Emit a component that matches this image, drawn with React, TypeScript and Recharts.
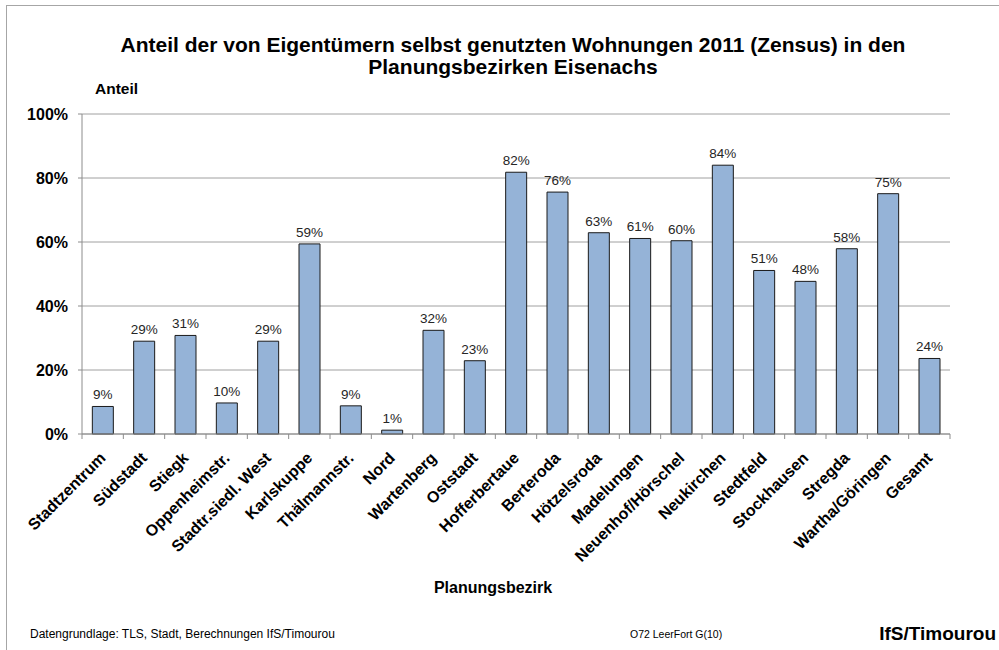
import React from 'react';
import { BarChart, Bar, XAxis, YAxis, CartesianGrid, LabelList } from 'recharts';

const categories = [
  'Stadtzentrum', 'Südstadt', 'Stiegk', 'Oppenheimstr.', 'Stadtr.siedl. West', 'Karlskuppe',
  'Thälmannstr.', 'Nord', 'Wartenberg', 'Oststadt', 'Hofferbertaue', 'Berteroda', 'Hötzelsroda',
  'Madelungen', 'Neuenhof/Hörschel', 'Neukirchen', 'Stedtfeld', 'Stockhausen', 'Stregda',
  'Wartha/Göringen', 'Gesamt',
];
const shares = [
  8.6, 29.0, 30.8, 9.7, 29.0, 59.4, 8.8, 1.2, 32.4, 22.9, 81.8, 75.6, 62.9, 61.1, 60.4, 84.0,
  51.1, 47.7, 57.9, 75.1, 23.6,
];
const yTicks = [0, 20, 40, 60, 80, 100];

const titleLines = [
  'Anteil der von Eigentümern selbst genutzten Wohnungen 2011 (Zensus) in den',
  'Planungsbezirken Eisenachs',
];
const yAxisTitle = 'Anteil';
const xAxisTitle = 'Planungsbezirk';
const sourceText = 'Datengrundlage: TLS, Stadt, Berechnungen IfS/Timourou';
const codeText = 'O72 LeerFort G(10)';
const brandText = 'IfS/Timourou';

const data = categories.map((name, i) => ({ name, value: shares[i] }));

const FONT = '"Liberation Sans", Arial, sans-serif';
const W = 999;
const H = 650;
const PLOT_LEFT = 82;
const PLOT_RIGHT = 950;
const PLOT_TOP = 114;
const PLOT_BOTTOM = 434;
const STEP = (PLOT_RIGHT - PLOT_LEFT) / categories.length;
const AXIS_COLOR = '#8c8c8c';

const XTick = (props: any) => {
  const { x, y, payload } = props;
  const idx = props.index ?? payload.index;
  return (
    <g>
      <line x1={x - STEP / 2} x2={x - STEP / 2} y1={y} y2={y + 5} stroke={AXIS_COLOR} />
      {idx === categories.length - 1 && (
        <line x1={x + STEP / 2} x2={x + STEP / 2} y1={y} y2={y + 5} stroke={AXIS_COLOR} />
      )}
      <text
        transform={`translate(${x + 4},${y + 25}) rotate(-45)`}
        textAnchor="end"
        fontFamily={FONT}
        fontSize={16}
        fontWeight="bold"
        fill="#000"
      >
        {payload.value}
      </text>
    </g>
  );
};

export default function App() {
  return (
    <div style={{ position: 'absolute', left: 0, top: 0, width: W, height: H, overflow: 'hidden', background: '#fff' }}>
      <div
        style={{
          position: 'absolute',
          left: 6,
          top: 5,
          width: 1200,
          height: 1000,
          borderLeft: '1px solid #a6a6a6',
          borderTop: '1px solid #a6a6a6',
        }}
      />
      <div style={{ position: 'absolute', left: 0, top: 0 }}>
        <BarChart
          width={W}
          height={H}
          data={data}
          margin={{ top: PLOT_TOP, right: W - PLOT_RIGHT, left: 0, bottom: 0 }}
          barCategoryGap="25%"
        >
          <CartesianGrid vertical={false} stroke="#a0a0a0" strokeWidth={1} />
          <XAxis
            dataKey="name"
            interval={0}
            height={H - PLOT_BOTTOM}
            tickSize={0}
            tickMargin={0}
            tickLine={false}
            axisLine={{ stroke: AXIS_COLOR }}
            tick={<XTick />}
          />
          <YAxis
            width={PLOT_LEFT}
            domain={[0, 100]}
            ticks={yTicks}
            interval={0}
            tickFormatter={(v: number) => `${v}%`}
            tickSize={4}
            tickMargin={10}
            tickLine={{ stroke: AXIS_COLOR }}
            axisLine={{ stroke: AXIS_COLOR }}
            tick={{ fontFamily: FONT, fontSize: 16, fontWeight: 'bold', fill: '#000' }}
          />
          <Bar dataKey="value" fill="#95b3d7" stroke="#1a1a1a" strokeWidth={1} isAnimationActive={false}>
            <LabelList
              dataKey="value"
              position="top"
              offset={7}
              fill="#262626"
              formatter={(v: any) => `${Math.round(Number(v))}%`}
              style={{ fontFamily: FONT, fontSize: 13.5, fill: '#262626' }}
            />
          </Bar>
        </BarChart>
      </div>
      <svg
        width={W}
        height={H}
        style={{ position: 'absolute', left: 0, top: 0, pointerEvents: 'none' }}
        fontFamily={FONT}
      >
        <text x={513} y={52} textAnchor="middle" fontSize={21} fontWeight="bold" fill="#000">
          {titleLines[0]}
        </text>
        <text x={513} y={74} textAnchor="middle" fontSize={21} fontWeight="bold" fill="#000">
          {titleLines[1]}
        </text>
        <text x={95} y={94} fontSize={15.5} fontWeight="bold" fill="#000">
          {yAxisTitle}
        </text>
        <text x={493} y={593} textAnchor="middle" fontSize={16} fontWeight="bold" fill="#000">
          {xAxisTitle}
        </text>
        <text x={30} y={638} fontSize={12} fill="#000">
          {sourceText}
        </text>
        <text x={630} y={638} fontSize={10.5} fill="#000">
          {codeText}
        </text>
        <text x={996} y={640} textAnchor="end" fontSize={19} fontWeight="bold" fill="#000">
          {brandText}
        </text>
      </svg>
    </div>
  );
}
